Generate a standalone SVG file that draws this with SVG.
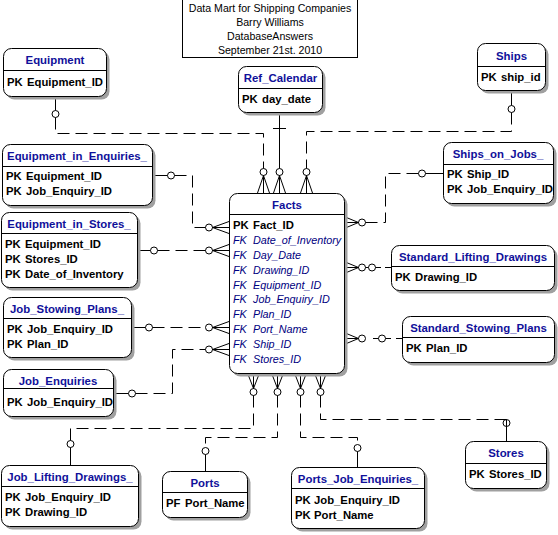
<svg xmlns="http://www.w3.org/2000/svg" width="558" height="535" viewBox="0 0 558 535">
<style>
text{font-family:"Liberation Sans",Arial,sans-serif}
.sh{fill:#a0a0a0;stroke:none}
.box{fill:#fff;stroke:#000;stroke-width:1}
.dv{stroke:#000;stroke-width:1}
.t{font-size:11.4px;font-weight:bold;fill:#10109a;text-anchor:middle}
.r{font-size:11.3px;font-weight:bold;fill:#000}
.fk{font-size:10.8px;font-style:italic;fill:#000080}
.hd{font-size:10.6px;fill:#000;text-anchor:middle}
.s{fill:none;stroke:#000;stroke-width:1}
.d{fill:none;stroke:#000;stroke-width:1;stroke-dasharray:12 6}
.c{fill:none;stroke:#000;stroke-width:1}
</style>
<rect x="0" y="0" width="558" height="535" fill="#fff"/>
<g id="title">
<rect x="182.5" y="-1" width="175" height="58.5" fill="#fff" stroke="#000"/>
<text class="hd" x="270" y="12">Data Mart for Shipping Companies</text>
<text class="hd" x="270" y="26">Barry Williams</text>
<text class="hd" x="270" y="40">DatabaseAnswers</text>
<text class="hd" x="270" y="54">September 21st. 2010</text>
</g>
<g id="connectors">
<!-- Equipment -> Facts -->
<path class="s" d="M55.5,96 V110.5"/><circle class="c" cx="55.5" cy="114" r="3.5"/>
<path class="d" d="M55.5,117.5 V133.5 H263.5 V168.5"/>
<circle class="c" cx="263.5" cy="172" r="3.5"/>
<path class="s" d="M263.5,175.5 L257.5,193 M263.5,175.5 V193 M263.5,175.5 L269.5,193"/>
<!-- Ref_Calendar -> Facts -->
<path class="s" d="M279.5,112 V168.5 M273,128.5 H286"/>
<circle class="c" cx="279.5" cy="172" r="3.5"/>
<path class="s" d="M279.5,175.5 L273.5,193 M279.5,175.5 V193 M279.5,175.5 L285.5,193"/>
<!-- Ships -> Facts -->
<path class="s" d="M511.5,90 V105.5"/><circle class="c" cx="511.5" cy="109" r="3.5"/>
<path class="d" d="M511.5,112.5 V131.5 H306.5 V168.5"/>
<circle class="c" cx="306.5" cy="172" r="3.5"/>
<path class="s" d="M306.5,175.5 L300.5,193 M306.5,175.5 V193 M306.5,175.5 L312.5,193"/>
<!-- Equipment_in_Enquiries_ -> Facts -->
<path class="s" d="M152,175.5 H167.5"/><circle class="c" cx="171" cy="175.5" r="3.5"/>
<path class="d" d="M174.5,175.5 H192.5 V227.5 H205.5"/>
<circle class="c" cx="209" cy="227.5" r="3.5"/>
<path class="s" d="M212.5,227.5 L229,221.5 M212.5,227.5 H229 M212.5,227.5 L229,233.5"/>
<!-- Equipment_in_Stores_ -> Facts -->
<path class="s" d="M137,250.5 H150.5"/><circle class="c" cx="154" cy="250.5" r="3.5"/>
<path class="d" d="M157.5,250.5 H205.5"/>
<circle class="c" cx="209" cy="250.5" r="3.5"/>
<path class="s" d="M212.5,250.5 L229,244.5 M212.5,250.5 H229 M212.5,250.5 L229,256.5"/>
<!-- Job_Stowing_Plans_ -> Facts -->
<path class="s" d="M131,327.5 H145.5"/><circle class="c" cx="149" cy="327.5" r="3.5"/>
<path class="d" d="M152.5,327.5 H205.5"/>
<circle class="c" cx="209" cy="327.5" r="3.5"/>
<path class="s" d="M212.5,327.5 L229,321.5 M212.5,327.5 H229 M212.5,327.5 L229,333.5"/>
<!-- Job_Enquiries -> Facts -->
<path class="s" d="M113,393.5 H128.5"/><circle class="c" cx="132" cy="393.5" r="3.5"/>
<path class="d" d="M135.5,393.5 H172.5 V349.5 H205.5"/>
<circle class="c" cx="209" cy="349.5" r="3.5"/>
<path class="s" d="M212.5,349.5 L229,343.5 M212.5,349.5 H229 M212.5,349.5 L229,355.5"/>
<!-- Ships_on_Jobs_ -> Facts -->
<path class="s" d="M443,173.5 H425.5"/><circle class="c" cx="422" cy="173.5" r="3.5"/>
<path class="d" d="M418.5,173.5 H385.5 V222.5 H365.5"/>
<circle class="c" cx="362" cy="222.5" r="3.5"/>
<path class="s" d="M358.5,222.5 L344,216.5 M358.5,222.5 H344 M358.5,222.5 L344,228.5"/>
<!-- Standard_Lifting_Drawings -> Facts -->
<circle class="c" cx="362" cy="267.5" r="3.5"/>
<circle class="c" cx="372" cy="267.5" r="3.5"/>
<path class="s" d="M365.5,267.5 H368.5 M375.5,267.5 H381"/>
<path class="d" d="M385,267.5 H391" style="stroke-dasharray:none"/>
<path class="s" d="M358.5,267.5 L344,261.5 M358.5,267.5 H344 M358.5,267.5 L344,273.5"/>
<!-- Standard_Stowing_Plans -> Facts -->
<circle class="c" cx="362" cy="338.5" r="3.5"/>
<path class="s" d="M358.5,338.5 L344,332.5 M358.5,338.5 H344 M358.5,338.5 L344,344.5"/>
<path class="s" d="M373,338.5 H378.5"/><circle class="c" cx="382" cy="338.5" r="3.5"/>
<path class="s" d="M385.5,338.5 H391 M396,338.5 H402"/>
<!-- Facts -> Job_Lifting_Drawings_ -->
<circle class="c" cx="253.5" cy="392" r="3.5"/>
<path class="s" d="M253.5,388.5 L247.5,373 M253.5,388.5 V373 M253.5,388.5 L259.5,373"/>
<path class="d" d="M253.5,395.5 V428.5 H70.5 V440.5"/>
<circle class="c" cx="70.5" cy="444" r="3.5"/>
<path class="s" d="M70.5,447.5 V465"/>
<!-- Facts -> Ports -->
<circle class="c" cx="277.5" cy="392" r="3.5"/>
<path class="s" d="M277.5,388.5 L271.5,373 M277.5,388.5 V373 M277.5,388.5 L283.5,373"/>
<path class="d" d="M277.5,395.5 V437.5 H205.5 V447.5"/>
<circle class="c" cx="205.5" cy="451" r="3.5"/>
<path class="s" d="M205.5,454.5 V471"/>
<!-- Facts -> Ports_Job_Enquiries_ -->
<circle class="c" cx="300.5" cy="392" r="3.5"/>
<path class="s" d="M300.5,388.5 L294.5,373 M300.5,388.5 V373 M300.5,388.5 L306.5,373"/>
<path class="d" d="M300.5,395.5 V437.5 H357.5 V444.5"/>
<circle class="c" cx="357.5" cy="448" r="3.5"/>
<path class="s" d="M357.5,451.5 V467"/>
<!-- Facts -> Stores -->
<circle class="c" cx="320.5" cy="392" r="3.5"/>
<path class="s" d="M320.5,388.5 L314.5,373 M320.5,388.5 V373 M320.5,388.5 L326.5,373"/>
<path class="d" d="M320.5,395.5 V419.5 H506.5"/>
<circle class="c" cx="506.5" cy="423" r="3.5"/>
<path class="s" d="M506.5,419.5 V441"/>
</g>
<g id="equipment">
<rect class="sh" x="6.5" y="51.5" width="103" height="48" rx="8"/>
<rect class="box" x="3.5" y="48.5" width="103" height="48" rx="8"/>
<line class="dv" x1="3.5" y1="70.5" x2="106.5" y2="70.5"/>
<text class="t" x="55" y="64">Equipment</text>
<text class="r" x="7" y="86">PK</text><text class="r" x="27" y="86">Equipment_ID</text>
</g>
<g id="ref_calendar">
<rect class="sh" x="241.5" y="69.5" width="84" height="46" rx="8"/>
<rect class="box" x="238.5" y="66.5" width="84" height="46" rx="8"/>
<line class="dv" x1="238.5" y1="88.5" x2="322.5" y2="88.5"/>
<text class="t" x="280.5" y="82">Ref_Calendar</text>
<text class="r" x="242" y="103">PK</text><text class="r" x="262" y="103">day_date</text>
</g>
<g id="ships">
<rect class="sh" x="480.5" y="46.5" width="68" height="47" rx="8"/>
<rect class="box" x="477.5" y="43.5" width="68" height="47" rx="8"/>
<line class="dv" x1="477.5" y1="66.5" x2="545.5" y2="66.5"/>
<text class="t" x="511.5" y="60">Ships</text>
<text class="r" x="481" y="81">PK</text><text class="r" x="501" y="81">ship_id</text>
</g>
<g id="equipment_in_enquiries">
<rect class="sh" x="5.5" y="147.5" width="150" height="61" rx="8"/>
<rect class="box" x="2.5" y="144.5" width="150" height="61" rx="8"/>
<line class="dv" x1="2.5" y1="166.5" x2="152.5" y2="166.5"/>
<text class="t" x="77" y="160">Equipment_in_Enquiries_</text>
<text class="r" x="6" y="180">PK</text><text class="r" x="26" y="180">Equipment_ID</text>
<text class="r" x="6" y="195">PK</text><text class="r" x="26" y="195">Job_Enquiry_ID</text>
</g>
<g id="ships_on_jobs">
<rect class="sh" x="446.5" y="145.5" width="110" height="61" rx="8"/>
<rect class="box" x="443.5" y="142.5" width="110" height="61" rx="8"/>
<line class="dv" x1="443.5" y1="164.5" x2="553.5" y2="164.5"/>
<text class="t" x="498" y="158">Ships_on_Jobs_</text>
<text class="r" x="447" y="178">PK</text><text class="r" x="467" y="178">Ship_ID</text>
<text class="r" x="447" y="193">PK</text><text class="r" x="467" y="193">Job_Enquiry_ID</text>
</g>
<g id="equipment_in_stores">
<rect class="sh" x="4.5" y="215.5" width="136" height="75" rx="8"/>
<rect class="box" x="1.5" y="212.5" width="136" height="75" rx="8"/>
<line class="dv" x1="1.5" y1="233.5" x2="137.5" y2="233.5"/>
<text class="t" x="69" y="228">Equipment_in_Stores_</text>
<text class="r" x="5" y="248">PK</text><text class="r" x="25" y="248">Equipment_ID</text>
<text class="r" x="5" y="263">PK</text><text class="r" x="25" y="263">Stores_ID</text>
<text class="r" x="5" y="278">PK</text><text class="r" x="25" y="278">Date_of_Inventory</text>
</g>
<g id="job_stowing_plans">
<rect class="sh" x="6.5" y="300.5" width="128" height="60" rx="8"/>
<rect class="box" x="3.5" y="297.5" width="128" height="60" rx="8"/>
<line class="dv" x1="3.5" y1="318.5" x2="131.5" y2="318.5"/>
<text class="t" x="67" y="313">Job_Stowing_Plans_</text>
<text class="r" x="7" y="333">PK</text><text class="r" x="27" y="333">Job_Enquiry_ID</text>
<text class="r" x="7" y="348">PK</text><text class="r" x="27" y="348">Plan_ID</text>
</g>
<g id="job_enquiries">
<rect class="sh" x="6.5" y="372.5" width="110" height="47" rx="8"/>
<rect class="box" x="3.5" y="369.5" width="110" height="47" rx="8"/>
<line class="dv" x1="3.5" y1="388.5" x2="113.5" y2="388.5"/>
<text class="t" x="58" y="385">Job_Enquiries</text>
<text class="r" x="7" y="406">PK</text><text class="r" x="27" y="406">Job_Enquiry_ID</text>
</g>
<g id="facts">
<rect class="sh" x="232.5" y="196.5" width="115" height="180" rx="8"/>
<rect class="box" x="229.5" y="193.5" width="115" height="180" rx="8"/>
<line class="dv" x1="229.5" y1="214.5" x2="344.5" y2="214.5"/>
<text class="t" x="287" y="209">Facts</text>
<text class="r" x="233" y="229">PK</text><text class="r" x="253" y="229">Fact_ID</text>
<text class="fk" x="233" y="244">FK</text><text class="fk" x="253" y="244">Date_of_Inventory</text>
<text class="fk" x="233" y="259">FK</text><text class="fk" x="253" y="259">Day_Date</text>
<text class="fk" x="233" y="274">FK</text><text class="fk" x="253" y="274">Drawing_ID</text>
<text class="fk" x="233" y="289">FK</text><text class="fk" x="253" y="289">Equipment_ID</text>
<text class="fk" x="233" y="303">FK</text><text class="fk" x="253" y="303">Job_Enquiry_ID</text>
<text class="fk" x="233" y="318">FK</text><text class="fk" x="253" y="318">Plan_ID</text>
<text class="fk" x="233" y="333">FK</text><text class="fk" x="253" y="333">Port_Name</text>
<text class="fk" x="233" y="348">FK</text><text class="fk" x="253" y="348">Ship_ID</text>
<text class="fk" x="233" y="363">FK</text><text class="fk" x="253" y="363">Stores_ID</text>
</g>
<g id="standard_lifting_drawings">
<rect class="sh" x="394.5" y="248.5" width="163" height="45" rx="8"/>
<rect class="box" x="391.5" y="245.5" width="163" height="45" rx="8"/>
<line class="dv" x1="391.5" y1="266.5" x2="554.5" y2="266.5"/>
<text class="t" x="473" y="261">Standard_Lifting_Drawings</text>
<text class="r" x="395" y="281">PK</text><text class="r" x="415" y="281">Drawing_ID</text>
</g>
<g id="standard_stowing_plans">
<rect class="sh" x="405.5" y="319.5" width="152" height="46" rx="8"/>
<rect class="box" x="402.5" y="316.5" width="152" height="46" rx="8"/>
<line class="dv" x1="402.5" y1="337.5" x2="554.5" y2="337.5"/>
<text class="t" x="478.5" y="332">Standard_Stowing_Plans</text>
<text class="r" x="406" y="352">PK</text><text class="r" x="426" y="352">Plan_ID</text>
</g>
<g id="job_lifting_drawings">
<rect class="sh" x="4.5" y="468.5" width="137" height="61" rx="8"/>
<rect class="box" x="1.5" y="465.5" width="137" height="61" rx="8"/>
<line class="dv" x1="1.5" y1="486.5" x2="138.5" y2="486.5"/>
<text class="t" x="70" y="481">Job_Lifting_Drawings_</text>
<text class="r" x="5" y="501">PK</text><text class="r" x="25" y="501">Job_Enquiry_ID</text>
<text class="r" x="5" y="516">PK</text><text class="r" x="25" y="516">Drawing_ID</text>
</g>
<g id="ports">
<rect class="sh" x="165.5" y="474.5" width="85" height="46" rx="8"/>
<rect class="box" x="162.5" y="471.5" width="85" height="46" rx="8"/>
<line class="dv" x1="162.5" y1="492.5" x2="247.5" y2="492.5"/>
<text class="t" x="205" y="487">Ports</text>
<text class="r" x="166" y="507">PF</text><text class="r" x="185" y="507">Port_Name</text>
</g>
<g id="ports_job_enquiries">
<rect class="sh" x="294.5" y="470.5" width="133" height="61" rx="8"/>
<rect class="box" x="291.5" y="467.5" width="133" height="61" rx="8"/>
<line class="dv" x1="291.5" y1="488.5" x2="424.5" y2="488.5"/>
<text class="t" x="358" y="483">Ports_Job_Enquiries_</text>
<text class="r" x="295" y="504">PK</text><text class="r" x="314" y="504">Job_Enquiry_ID</text>
<text class="r" x="295" y="519">PK</text><text class="r" x="314" y="519">Port_Name</text>
</g>
<g id="stores">
<rect class="sh" x="468.5" y="444.5" width="81" height="47" rx="8"/>
<rect class="box" x="465.5" y="441.5" width="81" height="47" rx="8"/>
<line class="dv" x1="465.5" y1="463.5" x2="546.5" y2="463.5"/>
<text class="t" x="506" y="457">Stores</text>
<text class="r" x="469" y="478">PK</text><text class="r" x="489" y="478">Stores_ID</text>
</g>
</svg>
